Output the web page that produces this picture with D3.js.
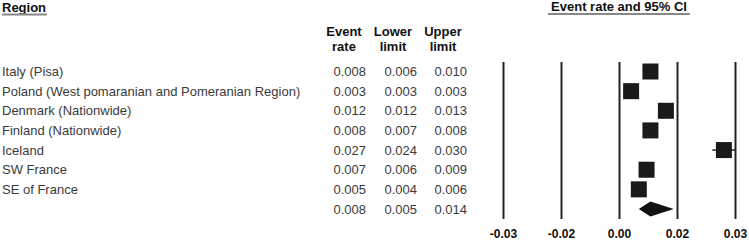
<!DOCTYPE html>
<html>
<head>
<meta charset="utf-8">
<script src="https://cdn.jsdelivr.net/npm/d3@7"></script>
<style>
  body { margin: 0; background: #fff; }
  svg text { font-family: "Liberation Sans", Arial, sans-serif; }
</style>
</head>
<body>
<div class="graph"></div>
<script>
// Study rows
const regions = ["Italy (Pisa)", "Poland (West pomaranian and Pomeranian Region)", "Denmark (Nationwide)",
    "Finland (Nationwide)", "Iceland", "SW France", "SE of France"];
const eventRate = [0.008, 0.003, 0.012, 0.008, 0.027, 0.007, 0.005];
const lowerLimit = [0.006, 0.003, 0.012, 0.007, 0.024, 0.006, 0.004];
const upperLimit = [0.010, 0.003, 0.013, 0.008, 0.030, 0.009, 0.006];
// Pooled estimate
const pooled = { rate: 0.008, lower: 0.005, upper: 0.014 };

const tickValues = [-0.03, -0.015, 0, 0.015, 0.03];
const tickLabels = ["-0.03", "-0.02", "0.00", "0.02", "0.03"];

const plotVars = ({
    width: 749,
    height: 240
});

const svg = d3.select(".graph").append("svg")
    .attr("width", plotVars.width)
    .attr("height", plotVars.height);

const rows = regions.map((r, i) => ({
    region: r, rate: eventRate[i], lower: lowerLimit[i], upper: upperLimit[i]
}));

const xScale = d3.scaleLinear().domain([-0.03, 0.03]).range([503.5, 735.5]);
// one slot per study plus the pooled row
const yScale = d3.scalePoint().domain(d3.range(regions.length + 1)).range([71.5, 209]);

// headers
svg.append("text").attr("x", 2).attr("y", 12)
    .attr("font-size", 13).attr("font-weight", "bold").attr("fill", "#111").text("Region");
svg.append("line").attr("x1", 2).attr("x2", 47).attr("y1", 14.5).attr("y2", 14.5)
    .attr("stroke", "#888").attr("stroke-width", 2);

svg.append("text").attr("x", 619).attr("y", 11).attr("text-anchor", "middle")
    .attr("font-size", 13).attr("font-weight", "bold").attr("fill", "#111").text("Event rate and 95% CI");
svg.append("line").attr("x1", 548).attr("x2", 690).attr("y1", 14).attr("y2", 14)
    .attr("stroke", "#888").attr("stroke-width", 2);

const cols = [
    { l1: "Event", l2: "rate", cx: 344, rx: 366, vals: eventRate, p: pooled.rate },
    { l1: "Lower", l2: "limit", cx: 393, rx: 417, vals: lowerLimit, p: pooled.lower },
    { l1: "Upper", l2: "limit", cx: 443, rx: 467, vals: upperLimit, p: pooled.upper }
];

cols.forEach(c => {
    svg.append("text").attr("x", c.cx).attr("y", 36).attr("text-anchor", "middle")
        .attr("font-size", 13).attr("font-weight", "bold").attr("fill", "#111").text(c.l1);
    svg.append("text").attr("x", c.cx).attr("y", 51).attr("text-anchor", "middle")
        .attr("font-size", 13).attr("font-weight", "bold").attr("fill", "#111").text(c.l2);
    svg.append("g").selectAll("text")
        .data(c.vals.concat([c.p]))
        .join("text")
        .attr("x", c.rx)
        .attr("y", (d, i) => yScale(i))
        .attr("dy", "0.35em")
        .attr("text-anchor", "end")
        .attr("font-size", 13)
        .attr("fill", "#3a3a3a")
        .text(d => d3.format(".3f")(d));
});

svg.append("g").selectAll("text")
    .data(rows)
    .join("text")
    .attr("x", 2)
    .attr("y", (d, i) => yScale(i))
    .attr("dy", "0.35em")
    .attr("font-size", 13)
    .attr("fill", "#3a3a3a")
    .text(d => d.region);

// vertical reference lines at the ticks
svg.append("g").selectAll("line")
    .data(tickValues)
    .join("line")
    .attr("x1", d => xScale(d)).attr("x2", d => xScale(d))
    .attr("y1", 62).attr("y2", 219)
    .attr("stroke", "#222").attr("stroke-width", 2);

svg.append("g").selectAll("text")
    .data(tickValues)
    .join("text")
    .attr("x", d => xScale(d))
    .attr("y", 238)
    .attr("text-anchor", "middle")
    .attr("font-size", 12)
    .attr("font-weight", "bold")
    .attr("fill", "#111")
    .text((d, i) => tickLabels[i]);

// confidence intervals
svg.append("g").selectAll("line")
    .data(rows)
    .join("line")
    .attr("x1", d => xScale(d.lower)).attr("x2", d => xScale(d.upper))
    .attr("y1", (d, i) => yScale(i)).attr("y2", (d, i) => yScale(i))
    .attr("stroke", "#222").attr("stroke-width", 1.5);

// point estimates
const box = 16;
svg.append("g").selectAll("rect")
    .data(rows)
    .join("rect")
    .attr("x", d => xScale(d.rate) - box / 2)
    .attr("y", (d, i) => yScale(i) - box / 2)
    .attr("width", box).attr("height", box)
    .attr("fill", "#1a1a1a");

// pooled diamond
const py = yScale(regions.length);
svg.append("path")
    .attr("d", `M${xScale(pooled.lower)},${py} L${xScale(pooled.rate)},${py - 7.5} L${xScale(pooled.upper)},${py} L${xScale(pooled.rate)},${py + 7.5} Z`)
    .attr("fill", "#111");
</script>
</body>
</html>
